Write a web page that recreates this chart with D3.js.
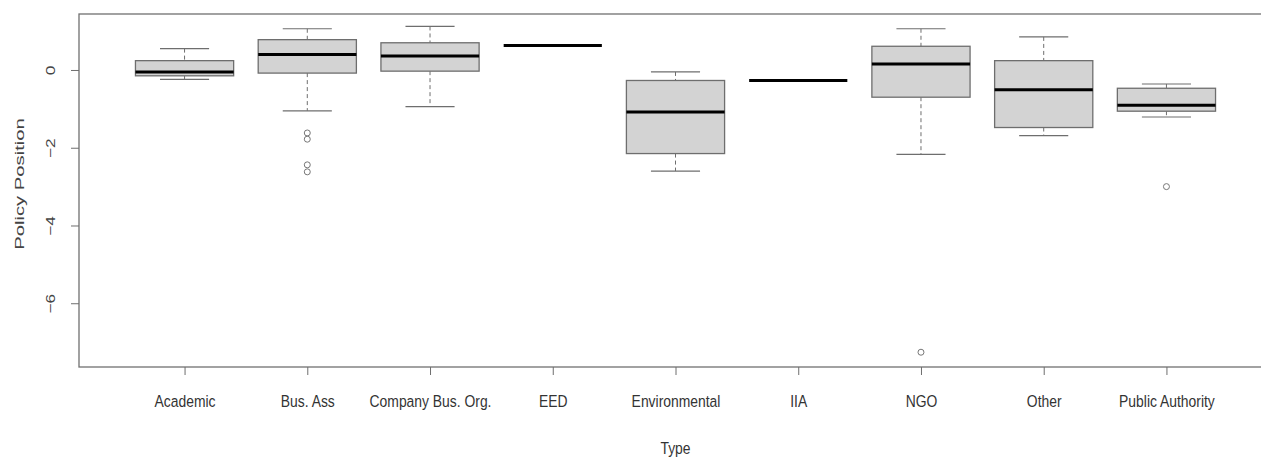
<!DOCTYPE html>
<html><head><meta charset="utf-8">
<script src="https://cdn.jsdelivr.net/npm/d3@7"></script>
<style>
html,body{margin:0;padding:0;background:#fff;}
svg{display:block;}
.lab{font-family:"Liberation Sans",Arial,sans-serif;fill:#333;}
.ylab{font-family:"Liberation Sans",Arial,sans-serif;fill:#444;}
</style></head>
<body>
<svg id="chart" width="1261" height="457"></svg>
<script>
const categories = ["Academic","Bus. Ass","Company Bus. Org.","EED","Environmental","IIA","NGO","Other","Public Authority"];
const whiskerLow  = [-0.24, -1.05, -0.94, 0.63, -2.60, -0.27, -2.17, -1.69, -1.21];
const q1          = [-0.15, -0.08, -0.03, 0.63, -2.15, -0.27, -0.70, -1.48, -1.06];
const median      = [-0.05,  0.40,  0.36, 0.63, -1.08, -0.27,  0.155, -0.51, -0.91];
const q3          = [ 0.24,  0.78,  0.70, 0.63, -0.27, -0.27,  0.61,  0.24, -0.47];
const whiskerHigh = [ 0.55,  1.06,  1.12, 0.63, -0.05, -0.27,  1.06,  0.85, -0.36];
const outliers    = [[], [-1.62, -1.78, -2.44, -2.62], [], [], [], [], [-7.26], [], [-3.0]];
const yTicks = [0, -2, -4, -6];
const yTitle = "Policy Position";
const xTitle = "Type";

const svg = d3.select("#chart");
const mLeft = 79, mTop = 14, mBottom = 367, mRight = 1272;
const n = categories.length;
const x = d3.scaleLinear().domain([0.14, n + 0.86]).range([mLeft, mRight]);
const y = d3.scaleLinear().domain([-7.64, 1.44]).range([mBottom, mTop]);
const bw = 0.8 * (x(2) - x(1));
const lineCol = "#6e6e6e";

const g = svg.append("g");
categories.forEach((c, i) => {
  const cx = x(i + 1);
  const gg = g.append("g");
  gg.append("line").attr("x1", cx).attr("x2", cx).attr("y1", y(whiskerHigh[i])).attr("y2", y(q3[i]))
    .attr("stroke", lineCol).attr("stroke-width", 1).attr("stroke-dasharray", "4,3");
  gg.append("line").attr("x1", cx).attr("x2", cx).attr("y1", y(q1[i])).attr("y2", y(whiskerLow[i]))
    .attr("stroke", lineCol).attr("stroke-width", 1).attr("stroke-dasharray", "4,3");
  [whiskerHigh[i], whiskerLow[i]].forEach(v => {
    if (q1[i] === q3[i]) return;
    gg.append("line").attr("x1", cx - bw / 4).attr("x2", cx + bw / 4).attr("y1", y(v)).attr("y2", y(v))
      .attr("stroke", lineCol).attr("stroke-width", 1.2);
  });
  if (q3[i] !== q1[i]) {
    gg.append("rect").attr("x", cx - bw / 2).attr("width", bw)
      .attr("y", y(q3[i])).attr("height", y(q1[i]) - y(q3[i]))
      .attr("fill", "#d3d3d3").attr("stroke", lineCol).attr("stroke-width", 1.3);
  }
  gg.append("line").attr("x1", cx - bw / 2).attr("x2", cx + bw / 2)
    .attr("y1", y(median[i])).attr("y2", y(median[i]))
    .attr("stroke", "#000").attr("stroke-width", 3);
  outliers[i].forEach(v => {
    gg.append("circle").attr("cx", cx).attr("cy", y(v)).attr("r", 3)
      .attr("fill", "none").attr("stroke", "#777").attr("stroke-width", 1);
  });
});

svg.append("rect").attr("x", mLeft).attr("y", mTop).attr("width", mRight - mLeft).attr("height", mBottom - mTop)
  .attr("fill", "none").attr("stroke", "#707070").attr("stroke-width", 1.3);

const yAxis = d3.axisLeft(y).tickValues(yTicks).tickSize(8).tickFormat(d3.format("d"));
const ya = svg.append("g").attr("transform", `translate(${mLeft},0)`).call(yAxis);
ya.select(".domain").remove();
ya.selectAll(".tick line").attr("stroke", lineCol);
ya.selectAll(".tick text").attr("class", "ylab").attr("x", 0).attr("y", 0)
  .attr("font-size", 15).attr("text-anchor", "middle")
  .attr("transform", "translate(-28,0) rotate(-90) scale(1.15,0.85)").attr("dy", "0.35em");

const xAxis = d3.axisBottom(x).tickValues(d3.range(1, n + 1)).tickSize(8).tickFormat(d => categories[d - 1]);
const xa = svg.append("g").attr("transform", `translate(0,${mBottom})`).call(xAxis);
xa.select(".domain").remove();
xa.selectAll(".tick line").attr("stroke", lineCol);
xa.selectAll(".tick text").attr("class", "lab").attr("font-size", 13.9).attr("y", 0).attr("dy", "0")
  .attr("transform", "translate(0,40) scale(1,1.17)");

svg.append("text").attr("class", "ylab").attr("font-size", 15)
  .attr("transform", `translate(24,184) rotate(-90) scale(1.35,0.85)`)
  .attr("text-anchor", "middle").text(yTitle);
svg.append("text").attr("class", "lab").attr("font-size", 13.9)
  .attr("transform", `translate(${x((n + 1) / 2)},454) scale(1,1.17)`)
  .attr("text-anchor", "middle").text(xTitle);
</script>
</body></html>
